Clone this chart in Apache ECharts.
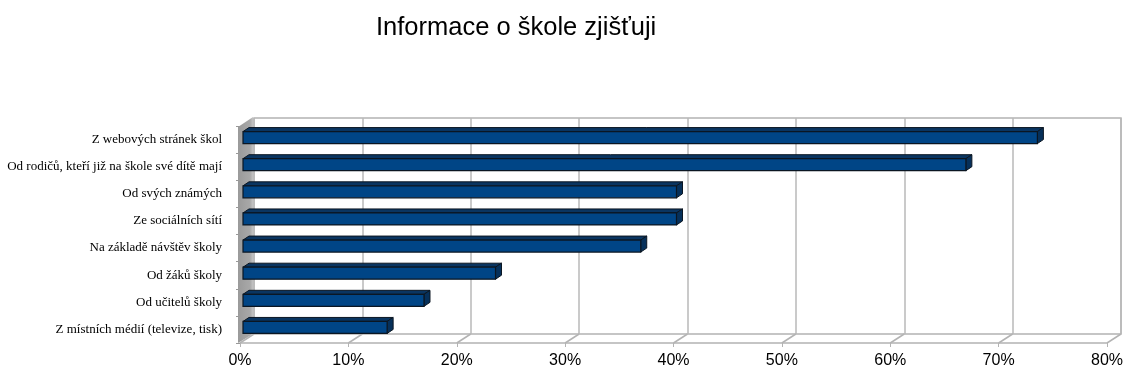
<!DOCTYPE html>
<html>
<head>
<meta charset="utf-8">
<script src="https://cdn.jsdelivr.net/npm/echarts@6/dist/echarts.min.js"></script>
<style>
html,body{margin:0;padding:0;background:#fff;}
#chart{width:1131px;height:372px;}
</style>
</head>
<body>
<div id="chart"></div>
<script>
const categories = [
  'Z webových stránek škol',
  'Od rodičů, kteří již na škole své dítě mají',
  'Od svých známých',
  'Ze sociálních sítí',
  'Na základě návštěv školy',
  'Od žáků školy',
  'Od učitelů školy',
  'Z místních médií (televize, tisk)'
];
const values = [73.3, 66.7, 40.0, 40.0, 36.7, 23.3, 16.7, 13.3];
const xTicks = [0, 10, 20, 30, 40, 50, 60, 70, 80];
const titleText = 'Informace o škole zjišťuji';

const DEPTH_X = 14, DEPTH_Y = -9;
const BAR_DX = 3, BAR_DY = -2, BAR_H = 12, BAR_DEPTH_X = 6, BAR_DEPTH_Y = -4;

const chart = echarts.init(document.getElementById('chart'), null, {renderer: 'canvas'});

const option = {
  animation: false,
  backgroundColor: '#ffffff',
  title: {
    text: titleText,
    left: 371,
    top: 10,
    textStyle: {fontFamily: 'Liberation Sans, Arial, sans-serif', fontSize: 25.5, fontWeight: 'normal', color: '#000'}
  },
  grid: [
    {left: 240, right: 24, top: 126, bottom: 29, containLabel: false},
    {left: 254, right: 10, top: 118, bottom: 38, containLabel: false, show: true,
     borderColor: '#b3b3b3', borderWidth: 1.5, backgroundColor: 'transparent'}
  ],
  xAxis: [
    {gridIndex: 0, type: 'value', min: 0, max: 80, interval: 10,
     axisLabel: {formatter: '{value}%', fontFamily: 'Liberation Sans, Arial, sans-serif', fontSize: 16, color: '#000', margin: 10},
     axisLine: {show: true, lineStyle: {color: '#b3b3b3', width: 1.5}},
     axisTick: {show: true, length: 4, lineStyle: {color: '#b3b3b3'}},
     splitLine: {show: false}},
    {gridIndex: 1, type: 'value', min: 0, max: 80, interval: 10,
     axisLabel: {show: false}, axisLine: {show: false}, axisTick: {show: false},
     splitLine: {show: true, lineStyle: {color: '#b8b8b8', width: 1.5}}}
  ],
  yAxis: [
    {gridIndex: 0, type: 'category', data: categories, inverse: true,
     axisLine: {show: false},
     axisTick: {show: true, length: 4, lineStyle: {color: '#999'}},
     axisLabel: {fontFamily: 'Liberation Serif, Times New Roman, serif', fontSize: 13, color: '#000', margin: 18}},
    {gridIndex: 1, type: 'category', data: categories, inverse: true, show: false}
  ],
  series: [
    {
      type: 'custom',
      name: 'walls',
      xAxisIndex: 0, yAxisIndex: 0,
      clip: false,
      z: 1,
      data: [[0, 0]],
      renderItem: function (params, api) {
        const cs = params.coordSys;
        const x = cs.x, y = cs.y, w = cs.width, h = cs.height;
        const children = [];
        children.push({
          type: 'polygon',
          shape: {points: [[x - 2, y + h], [x - 2, y + 1], [x + DEPTH_X - 1, y + DEPTH_Y], [x + DEPTH_X - 1, y + h + DEPTH_Y]]},
          style: {fill: new echarts.graphic.LinearGradient(0, 0, 1, 0, [
            {offset: 0, color: '#9a9a9a'}, {offset: 0.8, color: '#a8a8a8'}, {offset: 1, color: '#c4c4c4'}
          ])}
        });
        xTicks.forEach(function (t) {
          const px = api.coord([t, 0])[0];
          children.push({
            type: 'line',
            shape: {x1: px, y1: y + h, x2: px + DEPTH_X, y2: y + h + DEPTH_Y},
            style: {stroke: '#b3b3b3', lineWidth: 1.5}
          });
        });
        return {type: 'group', children: children};
      }
    },
    {
      type: 'custom',
      name: 'bars',
      xAxisIndex: 0, yAxisIndex: 0,
      clip: false,
      z: 5,
      data: values.map(function (v, i) { return [v, i]; }),
      renderItem: function (params, api) {
        const idx = api.value(1);
        const p0 = api.coord([0, idx]);
        const p1 = api.coord([api.value(0), idx]);
        const x0 = p0[0] + BAR_DX, x1 = p1[0] + BAR_DX;
        const yc = p1[1] + BAR_DY;
        const yt = yc - BAR_H / 2, yb = yc + BAR_H / 2;
        const dx = BAR_DEPTH_X, dy = BAR_DEPTH_Y;
        const stroke = '#0b1622';
        return {
          type: 'group',
          children: [
            {type: 'polygon', shape: {points: [[x0, yt], [x0 + dx, yt + dy], [x1 + dx, yt + dy], [x1, yt]]},
             style: {fill: '#0a3561', stroke: stroke, lineWidth: 1}},
            {type: 'polygon', shape: {points: [[x1, yt], [x1 + dx, yt + dy], [x1 + dx, yb + dy], [x1, yb]]},
             style: {fill: '#06305a', stroke: stroke, lineWidth: 1}},
            {type: 'rect', shape: {x: x0, y: yt, width: x1 - x0, height: BAR_H},
             style: {fill: '#004586', stroke: stroke, lineWidth: 1.2}}
          ]
        };
      }
    }
  ]
};
chart.setOption(option);
</script>
</body>
</html>
